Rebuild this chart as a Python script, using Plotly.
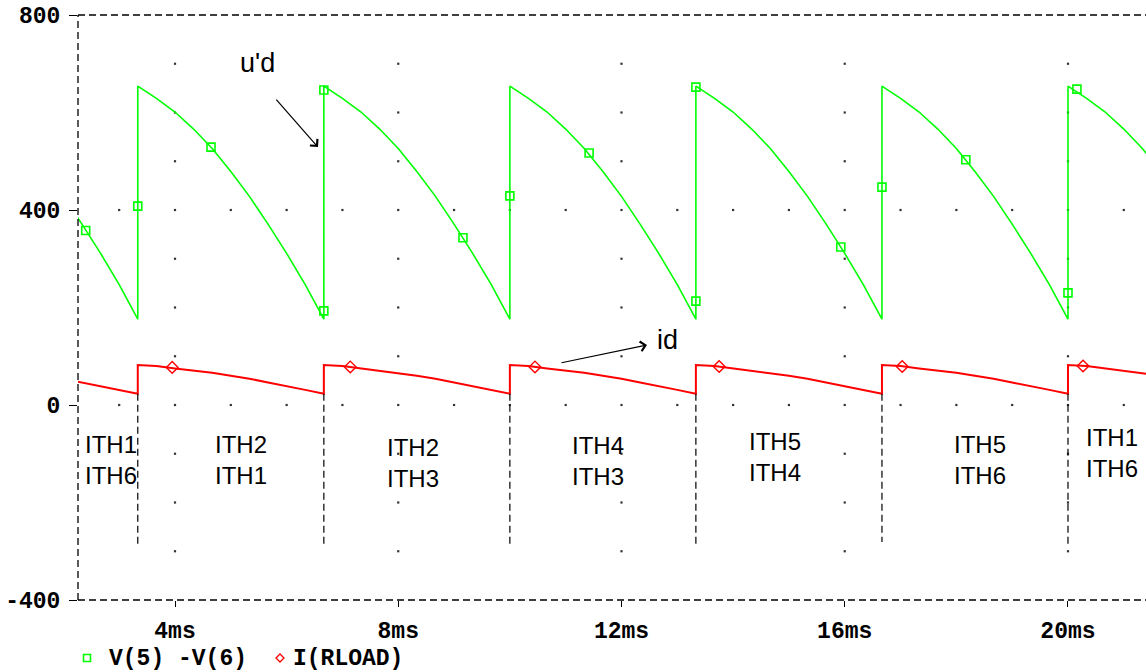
import plotly.graph_objects as go

# ---------------------------------------------------------------------------
# Simulation result: six-pulse bridge, output voltage V(5)-V(6) and load current
# time in ms; every commutation instant is listed twice (value before / after)
# ---------------------------------------------------------------------------
t_ms = [
    2.000, 2.333, 2.667, 3.000, 3.333,
    3.333, 3.667, 4.000, 4.333, 4.667, 5.000, 5.333, 5.667, 6.000, 6.333, 6.667,
    6.667, 7.000, 7.333, 7.667, 8.000, 8.333, 8.667, 9.000, 9.333, 9.667, 10.000,
    10.000, 10.333, 10.667, 11.000, 11.333, 11.667, 12.000, 12.333, 12.667, 13.000, 13.333,
    13.333, 13.667, 14.000, 14.333, 14.667, 15.000, 15.333, 15.667, 16.000, 16.333, 16.667,
    16.667, 17.000, 17.333, 17.667, 18.000, 18.333, 18.667, 19.000, 19.333, 19.667, 20.000,
    20.000, 20.333, 20.667, 21.000, 21.333, 21.667,
]

ud_V = [
    428, 371, 311, 247, 176,
    654, 629, 601, 566, 526, 479, 428, 371, 311, 247, 176,
    654, 629, 601, 566, 526, 479, 428, 371, 311, 247, 176,
    654, 629, 601, 566, 526, 479, 428, 371, 311, 247, 176,
    654, 629, 601, 566, 526, 479, 428, 371, 311, 247, 176,
    654, 629, 601, 566, 526, 479, 428, 371, 311, 247, 176,
    654, 629, 601, 566, 526, 479,
]

id_A = [
    54, 46, 39, 31, 23,
    82, 80, 75, 71, 66, 60, 54, 46, 39, 31, 23,
    82, 80, 75, 71, 66, 60, 54, 46, 39, 31, 23,
    82, 80, 75, 71, 66, 60, 54, 46, 39, 31, 23,
    82, 80, 75, 71, 66, 60, 54, 46, 39, 31, 23,
    82, 80, 75, 71, 66, 60, 54, 46, 39, 31, 23,
    82, 80, 75, 71, 66, 60,
]

# trace symbols placed along each waveform
ud_mark_t = [2.40, 3.333, 4.645, 6.667, 6.667, 9.16, 10.0, 11.42, 13.333, 13.333, 15.93, 16.667, 18.17, 20.0, 20.16]
ud_mark_v = [358, 408, 529, 193, 646, 343, 429, 517, 213, 652, 324, 447, 503, 230, 648]
id_mark_t = [3.95, 7.14, 10.45, 13.75, 17.03, 20.27]
id_mark_v = [77, 78, 78, 79, 79, 80]

# commutation instants with the dashed separators below the current trace
comm_t = [3.333, 6.667, 10.0, 13.333, 16.667, 20.0]
comm_top = [23, 23, 23, 23, 23, 23]
comm_bottom = [-293, -293, -293, -293, -281, -293]

# conducting thyristor pairs in each interval
ith_upper = ["ITH1", "ITH2", "ITH2", "ITH4", "ITH5", "ITH5", "ITH1"]
ith_lower = ["ITH6", "ITH1", "ITH3", "ITH3", "ITH4", "ITH6", "ITH6"]
ith_t = [2.853, 5.183, 8.265, 11.58, 14.75, 18.42, 20.79]
ith_mid_y = [-112, -112, -119, -115, -106, -113, -98]

x_ticks = [4, 8, 12, 16, 20]
x_ticktext = ["4ms", "8ms", "12ms", "16ms", "20ms"]
y_ticks = [-400, 0, 400, 800]
y_ticktext = ["-400", "0", "400", "800"]

X_RANGE = [2.262, 21.398]
Y_RANGE = [-400, 800]

GREEN = "#00ff00"
RED = "#ff0000"
AXIS_FONT = dict(family="Liberation Mono", size=23, color="black", weight="bold")
LABEL_FONT = dict(family="Liberation Sans", size=27, color="black")
PAIR_FONT = dict(family="Liberation Sans", size=24, color="black")

fig = go.Figure()

# dotted grid: columns at the major ticks, rows at 0 and 400
dot_x, dot_y = [], []
for xv in x_ticks:
    for yv in range(-300, 800, 100):
        dot_x.append(xv)
        dot_y.append(yv)
for yv in (0, 400):
    for xv in range(3, 22):
        if xv not in x_ticks:
            dot_x.append(xv)
            dot_y.append(yv)
fig.add_trace(go.Scatter(
    x=dot_x, y=dot_y, mode="markers",
    marker=dict(symbol="square", size=2.2, color="#333333", line=dict(width=0)),
    hoverinfo="skip", showlegend=False,
))

# separators at the commutation instants
for tc, ytop, ybot in zip(comm_t, comm_top, comm_bottom):
    fig.add_shape(type="line", xref="x", yref="y", x0=tc, x1=tc, y0=ytop, y1=ybot,
                  line=dict(color="black", width=1.2, dash="7px,4px"))

fig.add_trace(go.Scatter(
    x=t_ms, y=ud_V, mode="lines", name="V(5) -V(6)",
    line=dict(color=GREEN, width=1.6), showlegend=False,
))
fig.add_trace(go.Scatter(
    x=ud_mark_t, y=ud_mark_v, mode="markers",
    marker=dict(symbol="square-open", size=8, color=GREEN, line=dict(width=1.6)),
    showlegend=False,
))
fig.add_trace(go.Scatter(
    x=t_ms, y=id_A, mode="lines", name="I(RLOAD)",
    line=dict(color=RED, width=2), showlegend=False,
))
fig.add_trace(go.Scatter(
    x=id_mark_t, y=id_mark_v, mode="markers",
    marker=dict(symbol="diamond-open", size=9, color=RED, line=dict(width=1.4)),
    showlegend=False,
))

# frame: dashed top, left and bottom edges
frame = dict(color="black", width=1.3, dash="7px,4px")
fig.add_shape(type="line", xref="paper", yref="paper", x0=0, x1=1, y0=1, y1=1, line=frame)
fig.add_shape(type="line", xref="paper", yref="paper", x0=0, x1=1, y0=0, y1=0, line=frame)
fig.add_shape(type="line", xref="paper", yref="paper", x0=0, x1=0, y0=0, y1=1, line=frame)

annotations = []
for top, bot, xv, yv in zip(ith_upper, ith_lower, ith_t, ith_mid_y):
    annotations.append(dict(x=xv, y=yv, xref="x", yref="y", text=f"{top}<br>{bot}",
                            showarrow=False, font=PAIR_FONT, align="center",
                            xanchor="center", yanchor="middle"))

# waveform names with pointer arrows
annotations.append(dict(x=5.487, y=701, xref="x", yref="y", text="u'd", showarrow=False,
                        font=LABEL_FONT, xanchor="center", yanchor="middle"))
annotations.append(dict(x=6.562, y=529, xref="x", yref="y", text="", showarrow=True,
                        ax=-43, ay=-49, arrowhead=4, arrowsize=1.6, arrowwidth=1.2,
                        arrowcolor="black"))
annotations.append(dict(x=12.816, y=133, xref="x", yref="y", text="id", showarrow=False,
                        font=LABEL_FONT, xanchor="center", yanchor="middle"))
annotations.append(dict(x=12.457, y=123, xref="x", yref="y", text="", showarrow=True,
                        ax=-87, ay=18, arrowhead=4, arrowsize=1.6, arrowwidth=1.2,
                        arrowcolor="black"))

# legend row below the axis
PLOT_L, PLOT_W, PLOT_B, PLOT_H = 78, 1068, 600, 585


def px_x(px):
    return (px - PLOT_L) / PLOT_W


def px_y(py):
    return (PLOT_B - py) / PLOT_H


annotations.append(dict(x=px_x(107), y=px_y(659), xref="paper", yref="paper",
                        text="V(5) -V(6)", showarrow=False, font=AXIS_FONT,
                        xanchor="left", yanchor="middle"))
annotations.append(dict(x=px_x(291), y=px_y(659), xref="paper", yref="paper",
                        text="I(RLOAD)", showarrow=False, font=AXIS_FONT,
                        xanchor="left", yanchor="middle"))
fig.add_shape(type="rect", xref="paper", yref="paper", xsizemode="pixel", ysizemode="pixel",
              xanchor=px_x(87), yanchor=px_y(658), x0=-3.5, x1=3.5, y0=-3.5, y1=3.5,
              line=dict(color=GREEN, width=1.6))
fig.add_shape(type="path", xref="paper", yref="paper", xsizemode="pixel", ysizemode="pixel",
              xanchor=px_x(280), yanchor=px_y(658),
              path="M -4 0 L 0 4 L 4 0 L 0 -4 Z",
              line=dict(color=RED, width=1.3))

fig.update_layout(
    width=1146, height=672,
    margin=dict(l=78, r=0, t=15, b=72, pad=0),
    paper_bgcolor="white", plot_bgcolor="white",
    showlegend=False,
    annotations=annotations,
    xaxis=dict(range=X_RANGE, showgrid=False, zeroline=False, showline=False,
               tickmode="array", tickvals=x_ticks, ticktext=x_ticktext,
               ticks="outside", ticklen=6, tickwidth=1, tickcolor="black",
               tickfont=AXIS_FONT, ticklabelstandoff=3),
    yaxis=dict(range=Y_RANGE, showgrid=False, zeroline=False, showline=False,
               tickmode="array", tickvals=y_ticks, ticktext=y_ticktext,
               ticks="outside", ticklen=8, tickwidth=1, tickcolor="black",
               tickfont=AXIS_FONT, ticklabelstandoff=4),
)

fig.write_html("out.html")
